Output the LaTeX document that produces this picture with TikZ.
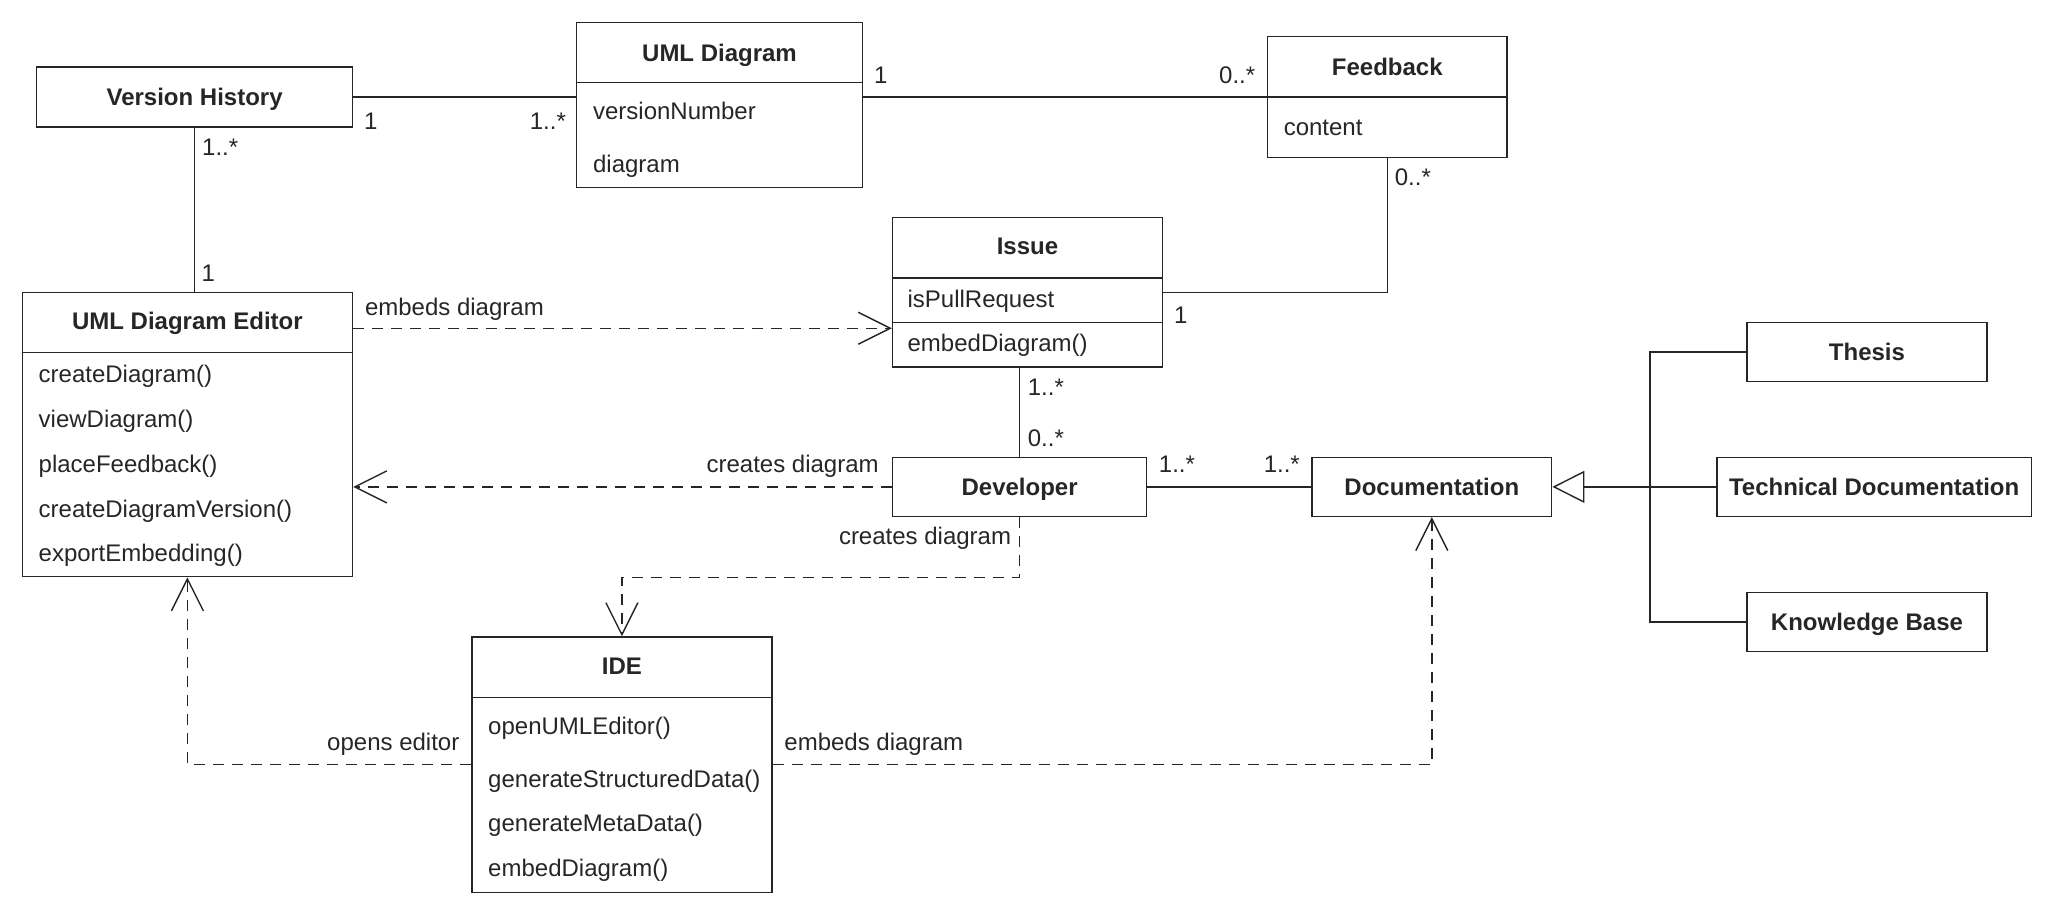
\documentclass[tikz,border=0pt]{standalone}
\usepackage{fontspec}
\setmainfont{Liberation Sans}
\usetikzlibrary{arrows.meta,calc,fit}
\begin{document}
\begin{tikzpicture}[x=0.6553pt,y=-0.6553pt,
  color=black!85, line width=0.7pt,
  box/.style={draw, inner sep=0pt, line width=0.7pt},
  txt/.style={inner sep=0pt, text height=8.6pt, text depth=0pt, font=\fontsize{12}{14}\selectfont},
  hd/.style={txt, font=\fontsize{12}{14}\selectfont\bfseries},
  assoc/.style={line width=0.7pt},
  dep/.style={line width=0.7pt, dash pattern=on 5.5pt off 4pt, -{Straight Barb[length=16pt,width=16pt,line width=0.7pt]}},
  gen/.style={line width=0.7pt, -{Triangle[open,length=16pt,width=16pt,line width=0.7pt,fill=white]}}
]
\useasboundingbox (0,0) rectangle (1568,698);

% Version History
\node[box, fit={(28,51) (269,97)}] (vh) {};
\node[hd] (vht) at (vh.center) {Version History};

% UML Diagram
\node[box, fit={(440,17) (658,143)}] (umld) {};
\draw (440,63) -- (658,63);
\node[hd] (umldt) at (549,40) {UML Diagram};
\node[txt, anchor=west] (umlda1) at (452,85) {versionNumber};
\node[txt, anchor=west] (umlda2) at (452,125) {diagram};

% Feedback
\node[box, fit={(967,28) (1150,120)}] (fb) {};
\draw (967,74) -- (1150,74);
\node[hd] (fbt) at (1058.5,51) {Feedback};
\node[txt, anchor=west] (fba1) at (979,97) {content};

% Issue
\node[box, fit={(681,166) (887,280)}] (issue) {};
\draw (681,212) -- (887,212);
\draw (681,246) -- (887,246);
\node[hd] (issuet) at (784,188) {Issue};
\node[txt, anchor=west] (issuea1) at (692,228) {isPullRequest};
\node[txt, anchor=west] (issuem1) at (692,262) {embedDiagram()};

% UML Diagram Editor
\node[box, fit={(17,223) (269,440)}] (ed) {};
\draw (17,269) -- (269,269);
\node[hd] (edt) at (143,245) {UML Diagram Editor};
\node[txt, anchor=west] (edm1) at (29,285) {createDiagram()};
\node[txt, anchor=west] (edm2) at (29,320) {viewDiagram()};
\node[txt, anchor=west] (edm3) at (29,354) {placeFeedback()};
\node[txt, anchor=west] (edm4) at (29,388) {createDiagramVersion()};
\node[txt, anchor=west] (edm5) at (29,422) {exportEmbedding()};

% Developer
\node[box, fit={(681,349) (875,394)}] (dev) {};
\node[hd] (devt) at (dev.center) {Developer};

% Documentation
\node[box, fit={(1001,349) (1184,394)}] (doc) {};
\node[hd] (doct) at (doc.center) {Documentation};

% Subclasses
\node[box, fit={(1333,246) (1516,291)}] (th) {};
\node[hd] (tht) at (th.center) {Thesis};
\node[box, fit={(1310,349) (1550,394)}] (td) {};
\node[hd] (tdt) at (td.center) {Technical Documentation};
\node[box, fit={(1333,452) (1516,497)}] (kb) {};
\node[hd] (kbt) at (kb.center) {Knowledge Base};

% IDE
\node[box, fit={(360,486) (589,681)}] (ide) {};
\draw (360,532) -- (589,532);
\node[hd] (idet) at (474.5,508) {IDE};
\node[txt, anchor=west] (idem1) at (372,554) {openUMLEditor()};
\node[txt, anchor=west] (idem2) at (372,594) {generateStructuredData()};
\node[txt, anchor=west] (idem3) at (372,628) {generateMetaData()};
\node[txt, anchor=west] (idem4) at (372,662) {embedDiagram()};

% Connectors
\draw[assoc] (vh.east) -- (vh.east -| umld.west);
\draw[assoc] (vh.south) -- (vh.south |- ed.north);
\draw[assoc] (umld.east |- fb.west) -- (fb.west);
\draw[assoc] (fb.south) |- (issue.east);
\coordinate (e1) at ($(ed.north east)+(0,28)$);
\draw[dep] (e1) -- (e1 -| issue.west);
\draw[assoc] (dev.north) -- (dev.north |- issue.south);
\draw[dep] (dev.west) -- (dev.west -| ed.east);
\draw[dep] (dev.south) -- ++(0,46) -| (ide.north);
\draw[assoc] (dev.east) -- (doc.west);
\draw[dep] (ide.west) -| (ed.south);
\draw[dep] (ide.east) -| (doc.south);
\coordinate (j) at (1259,372);
\draw[assoc] (th.west) -- (th.west -| j) -- (kb.west -| j) -- (kb.west);
\draw[gen] (td.west) -- (doc.east);

% Labels
\node[txt] (l1) at (283,92) {1};
\node[txt] (l2) at (418,92) {1..*};
\node[txt] (l3) at (168,112) {1..*};
\node[txt] (l4) at (159,208) {1};
\node[txt] (l5) at (672,57) {1};
\node[txt] (l6) at (944,57) {0..*};
\node[txt] (l7) at (1078,135) {0..*};
\node[txt] (l8) at (901,240) {1};
\node[txt, anchor=west] (l9) at (278,234) {embeds diagram};
\node[txt] (l10) at (798,295) {1..*};
\node[txt] (l11) at (798,334) {0..*};
\node[txt, anchor=east] (l12) at (671,354) {creates diagram};
\node[txt, anchor=east] (l13) at (772,409) {creates diagram};
\node[txt] (l14) at (898,354) {1..*};
\node[txt] (l15) at (978,354) {1..*};
\node[txt, anchor=east] (l16) at (351,566) {opens editor};
\node[txt, anchor=west] (l17) at (598,566) {embeds diagram};
\end{tikzpicture}
\end{document}
